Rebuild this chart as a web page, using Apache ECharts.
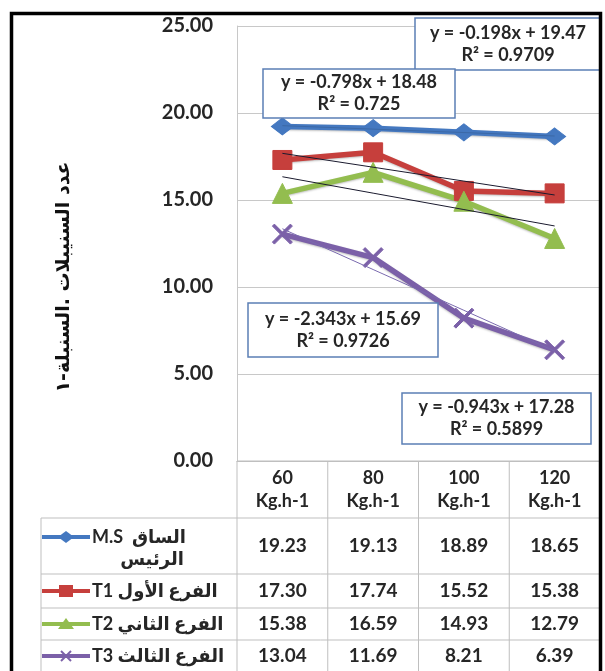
<!DOCTYPE html>
<html>
<head>
<meta charset="utf-8">
<script src="https://cdn.jsdelivr.net/npm/echarts@6/dist/echarts.min.js"></script>
<style>
  html, body { margin: 0; padding: 0; background: #fff; }
  #chart { width: 605px; height: 671px; }
</style>
</head>
<body>
<div id="chart"></div>
<script>
// categories (fertiliser rates) and unit
const categories = ['60', '80', '100', '120']
const unitLabel = 'Kg.h-1'

// series values
const msValues = [19.23, 19.13, 18.89, 18.65]
const t1Values = [17.30, 17.74, 15.52, 15.38]
const t2Values = [15.38, 16.59, 14.93, 12.79]
const t3Values = [13.04, 11.69, 8.21, 6.39]

const seriesNames = ['M.S الساق الرئيس', 'T1 الفرع الأول', 'T2 الفرع الثاني', 'T3 الفرع الثالث']

// linear trendlines as printed on the chart
const trendSlopes = [-0.198, -0.798, -0.943, -2.343]
const trendIntercepts = [19.47, 18.48, 17.28, 15.69]
const trendR2 = ['0.9709', '0.725', '0.5899', '0.9726']

const yAxisTitle = 'عدد السنيبلات .السنبلة-١'

const allValues = [msValues, t1Values, t2Values, t3Values]
const colors = ['#4478c0', '#c63f3c', '#93bd4f', '#7b60a8']
const trendColors = ['#3b68a6', '#1a1a2e', '#1a1a2e', '#7a6aae']
const xPath = 'path://M1,0 L5,4 L9,0 L10,1 L6,5 L10,9 L9,10 L5,6 L1,10 L0,9 L4,5 L0,1 Z'
const symbols = ['diamond', 'rect', 'triangle', xPath]
const symbolSizes = [[22, 17], 19, 20, 20]

const FONT = 'Lato, "DejaVu Sans", sans-serif'
const chart = echarts.init(document.getElementById('chart'), null, { renderer: 'canvas' })

// x positions used by the trendline equation are 1..n, as in Excel
const trendData = trendSlopes.map((m, s) => categories.map((c, i) => +(m * (i + 1) + trendIntercepts[s]).toFixed(3)))

const series = []
allValues.forEach((vals, s) => {
  series.push({
    name: seriesNames[s],
    type: 'line',
    data: vals,
    symbol: symbols[s],
    symbolSize: symbolSizes[s],
    z: 3,
    lineStyle: { color: colors[s], width: 5.5, shadowColor: 'rgba(0,0,0,0.25)', shadowBlur: 2, shadowOffsetY: 1 },
    itemStyle: { color: colors[s], borderColor: colors[s], borderWidth: 1 }
  })
})
trendData.forEach((vals, s) => {
  series.push({
    name: 'trend ' + s,
    type: 'line',
    data: vals,
    symbol: 'none',
    z: 4,
    silent: true,
    lineStyle: { color: trendColors[s], width: 1 }
  })
})

chart.setOption({
  animation: false,
  grid: { left: 237, right: 5, top: 26, bottom: 210 },
  xAxis: {
    type: 'category',
    data: categories,
    boundaryGap: true,
    axisLabel: { show: false },
    axisTick: { show: false },
    axisLine: { lineStyle: { color: '#bfbfbf', width: 1 } }
  },
  yAxis: {
    type: 'value',
    min: 0,
    max: 25,
    interval: 5,
    axisLine: { show: true, lineStyle: { color: '#c8c8c8' } },
    axisTick: { show: false },
    splitLine: { lineStyle: { color: '#c8c8c8', width: 1 } },
    axisLabel: {
      margin: 24,
      formatter: v => v.toFixed(2),
      color: '#262626',
      fontFamily: FONT,
      fontWeight: 'bold',
      fontSize: 20
    }
  },
  series: series
})

// ---- annotations, data table, frame ----
const xs = categories.map((c, i) => chart.convertToPixel({ xAxisIndex: 0 }, i))
const colW = xs[1] - xs[0]
const plotLeft = xs[0] - colW / 2
const plotRight = xs[xs.length - 1] + colW / 2
const tableTop = chart.convertToPixel({ yAxisIndex: 0 }, 0)
const tableLeft = 41
const rowEdges = [tableTop, 518, 574, 608, 640, 672]
const gridColor = '#bfbfbf'

const g = []
const hLine = (x1, x2, y) => g.push({ type: 'line', shape: { x1, y1: y, x2, y2: y }, style: { stroke: gridColor, lineWidth: 1 }, z: 10 })
const vLine = (x, y1, y2) => g.push({ type: 'line', shape: { x1: x, y1, x2: x, y2 }, style: { stroke: gridColor, lineWidth: 1 }, z: 10 })

hLine(plotLeft, plotRight, rowEdges[0])
for (let r = 1; r < 5; r++) hLine(tableLeft, plotRight, rowEdges[r])
for (let c = 0; c <= categories.length; c++) vLine(plotLeft + c * colW, rowEdges[0], 700)
vLine(tableLeft, rowEdges[1], 700)

const tableText = (text, x, y, size, align) => g.push({
  type: 'text', x, y, z: 11,
  style: { text, fill: '#262626', font: 'bold ' + size + 'px ' + FONT, align: align || 'center', verticalAlign: 'middle', lineHeight: 23 }
})

categories.forEach((c, i) => tableText(c + '\n' + unitLabel, xs[i], (rowEdges[0] + rowEdges[1]) / 2, 18))
allValues.forEach((vals, s) => {
  const cy = (rowEdges[s + 1] + rowEdges[s + 2]) / 2
  vals.forEach((v, i) => tableText(v.toFixed(2), xs[i], cy, 19))
})

// legend keys + row headers
const keyCx = 66
function legendKey(s, cy) {
  const col = colors[s]
  g.push({ type: 'line', shape: { x1: keyCx - 24, y1: cy, x2: keyCx + 24, y2: cy }, style: { stroke: col, lineWidth: 4 }, z: 11 })
  let shape
  if (s === 0) shape = { type: 'polygon', shape: { points: [[keyCx - 8, cy], [keyCx, cy - 6], [keyCx + 8, cy], [keyCx, cy + 6]] } }
  else if (s === 1) shape = { type: 'rect', shape: { x: keyCx - 7, y: cy - 6, width: 14, height: 12 } }
  else if (s === 2) shape = { type: 'polygon', shape: { points: [[keyCx - 8, cy + 5], [keyCx, cy - 6], [keyCx + 8, cy + 5]] } }
  if (shape) {
    shape.style = { fill: col }
    shape.z = 12
    g.push(shape)
  } else {
    g.push({ type: 'line', shape: { x1: keyCx - 5, y1: cy - 5, x2: keyCx + 5, y2: cy + 5 }, style: { stroke: col, lineWidth: 2 }, z: 12 })
    g.push({ type: 'line', shape: { x1: keyCx - 5, y1: cy + 5, x2: keyCx + 5, y2: cy - 5 }, style: { stroke: col, lineWidth: 2 }, z: 12 })
  }
}
legendKey(0, 537)
tableText('M.S  الساق', 92, 537, 18, 'left')
tableText('الرئيس', 152, 559, 18)
for (let s = 1; s < 4; s++) {
  const cy = (rowEdges[s + 1] + rowEdges[s + 2]) / 2
  legendKey(s, cy)
  tableText(seriesNames[s], 92, cy, 18, 'left')
}

// trendline equation boxes (left, top, width, height)
const eqBoxes = [[415, 18, 186, 52], [263, 69, 192, 49], [402, 393, 189, 51], [248, 303, 190, 54]]
eqBoxes.forEach((b, s) => {
  const sign = trendIntercepts[s] >= 0 ? ' + ' : ' - '
  const eq = 'y = ' + trendSlopes[s] + 'x' + sign + Math.abs(trendIntercepts[s]).toFixed(2) + '\nR² = ' + trendR2[s]
  g.push({ type: 'rect', shape: { x: b[0], y: b[1], width: b[2], height: b[3] }, style: { fill: '#fff', stroke: '#5b7fb5', lineWidth: 1.5 }, z: 20 })
  g.push({
    type: 'text', x: b[0] + b[2] / 2, y: b[1] + b[3] / 2, z: 21,
    style: { text: eq, fill: '#262626', font: 'bold 18px ' + FONT, align: 'center', verticalAlign: 'middle', lineHeight: 22 }
  })
})

// rotated y axis title
g.push({
  type: 'text', x: 64, y: 277, rotation: Math.PI / 2, z: 11,
  style: { text: yAxisTitle, fill: '#111', font: 'bold 19px "DejaVu Sans", sans-serif', align: 'center', verticalAlign: 'middle' }
})

// outer black frame
g.push({ type: 'rect', shape: { x: 11.5, y: 13.5, width: 589, height: 700 }, style: { fill: 'none', stroke: '#000', lineWidth: 3.5 }, z: 30 })

chart.setOption({ graphic: g })
</script>
</body>
</html>
